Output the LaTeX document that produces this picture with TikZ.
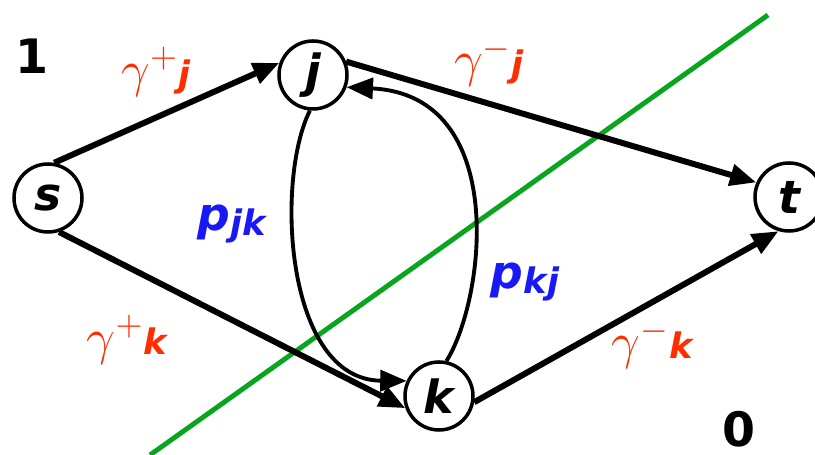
\documentclass[tikz,border=0pt]{standalone}
\usepackage{graphicx}
\usepackage{fontspec}
\newfontfamily\comicfont{DejaVu Sans}
\usetikzlibrary{arrows.meta}
\definecolor{cutgreen}{RGB}{10,165,30}
\definecolor{capred}{RGB}{255,45,0}
\definecolor{flowblue}{RGB}{25,25,245}
\newcommand{\bfit}[1]{{\comicfont\bfseries\itshape #1}}
\newcommand{\capl}[2]{\scalebox{1.4}{$\gamma^{#1}$}\bfit{#2}}
\newcommand{\flowl}[2]{\bfit{#1}\raisebox{-3pt}{\fontsize{20}{24}\selectfont\bfit{#2}}}

\begin{document}
\begin{tikzpicture}[>={Triangle[length=15pt,width=12pt]},
    vert/.style={circle, draw, line width=2pt, minimum size=1.36cm, inner sep=0pt, font=\fontsize{26}{30}\selectfont},
    arc/.style={->, line width=3.4pt},
    backarc/.style={->, line width=2.2pt},
    lbl/.style={inner sep=0pt, font=\fontsize{20}{24}\selectfont}]
  \useasboundingbox (0,0) rectangle (16.3,9.1);
  \coordinate (cutA) at (3.0,0);
  \coordinate (cutB) at (15.36,8.8);
  \draw[cutgreen, line width=2.8pt] (cutA) -- (cutB);

  \node[vert] (s) at (0.96,5.14) {\bfit{s}};
  \node[vert] (j) at (6.26,7.6) {\bfit{j}};
  \node[vert] (t) at (15.78,5.16) {\bfit{t}};
  \node[vert] (k) at (8.78,1.18) {\bfit{k}};

  \draw[arc] (s.80) -- (j.160);
  \draw[arc] (s.-72) -- (k.200);
  \draw[arc] (j.22) -- (t.156);
  \draw[arc] (k.-10) -- (t.-107);
  \draw[backarc] (j.265) .. controls (5.5,5.5) and (5.7,1.5) .. (k.155);
  \draw[backarc] (k.78) .. controls (9.7,3.1) and (10.2,7.2) .. (j.-20);

  \node[lbl, font=\fontsize{27}{30}\selectfont] (one) at (0.64,7.98) {\comicfont\bfseries 1};
  \node[lbl, font=\fontsize{27}{30}\selectfont] (zero) at (14.78,0.52) {\comicfont\bfseries 0};
  \node[lbl, text=capred] (gsj) at (3.12,7.66) {\capl{+}{j}};
  \node[lbl, text=capred] (gjt) at (9.78,7.86) {\capl{-}{j}};
  \node[lbl, text=capred] (gsk) at (2.54,2.3) {\capl{+}{k}};
  \node[lbl, text=capred] (gkt) at (13.04,2.22) {\capl{-}{k}};
  \node[lbl, text=flowblue, font=\fontsize{26}{30}\selectfont] (pjk) at (4.64,4.62) {\flowl{p}{jk}};
  \node[lbl, text=flowblue, font=\fontsize{26}{30}\selectfont] (pkj) at (10.5,3.46) {\flowl{p}{kj}};
\end{tikzpicture}
\end{document}
